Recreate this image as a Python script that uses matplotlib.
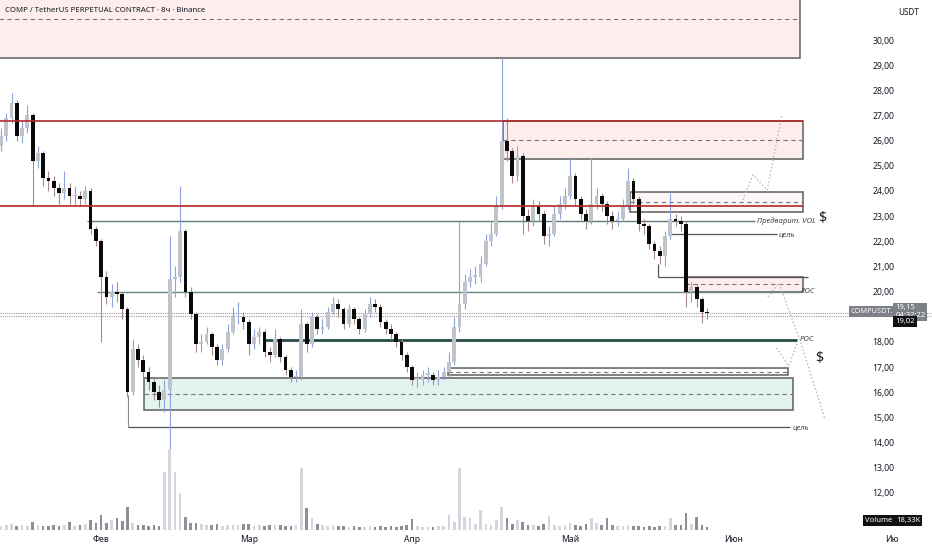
import matplotlib
matplotlib.use("Agg")
import matplotlib.pyplot as plt
from matplotlib.patches import Rectangle
import numpy as np

plt.rcParams['font.family'] = ['Noto Sans', 'DejaVu Sans']

# daily candles, day 0 = Jan 13
first_open = 25.8
closes = [26.2, 26.9, 27.5, 26.2, 26.5, 27.0, 25.2, 25.5, 24.5, 24.4,
          24.1, 23.9, 24.1, 23.8, 23.8, 23.7, 24.0, 22.5, 22.0, 20.6,
          19.8, 20.0, 19.9, 19.3, 16.0, 17.7, 17.3, 16.8, 16.4, 16.0,
          15.7, 16.1, 20.5, 20.6, 22.4, 20.0, 19.1, 17.9, 18.0, 18.3,
          17.8, 17.3, 17.7, 18.4, 19.0, 19.0, 18.8, 17.9, 18.2, 18.4,
          17.6, 17.5, 18.1, 17.4, 16.9, 16.6, 16.6, 18.7, 17.9, 19.0,
          18.5, 18.6, 19.2, 19.5, 19.3, 18.7, 19.3, 18.9, 18.5, 19.1,
          19.5, 19.4, 18.8, 18.5, 18.3, 18.0, 17.5, 17.0, 16.5, 16.5,
          16.7, 16.7, 16.5, 16.6, 16.8, 17.2, 18.6, 19.5, 20.4, 20.6,
          20.6, 21.1, 22.0, 22.3, 23.4, 26.0, 25.6, 24.6, 25.4, 23.0,
          22.8, 23.4, 23.1, 22.2, 22.3, 23.1, 23.5, 23.8, 24.6, 23.7,
          23.1, 22.8, 23.5, 23.8, 23.5, 23.0, 22.8, 22.9, 23.4, 24.4,
          23.7, 22.7, 22.6, 21.9, 21.6, 21.4, 22.2, 22.9, 22.8, 22.7,
          20.0, 20.2, 19.7, 19.2, 19.15]
highs = [26.5, 27.1, 27.9, 27.6, 26.8, 27.4, 27.1, 25.8, 25.6, 24.8,
         24.6, 24.3, 24.8, 24.3, 24.2, 24.0, 24.2, 24.1, 22.6, 22.1,
         20.8, 20.3, 20.4, 20.0, 19.4, 18.1, 17.9, 17.5, 17.0, 16.6,
         16.3, 16.5, 22.2, 21.0, 24.2, 22.5, 20.2, 19.2, 18.3, 18.6,
         18.4, 17.9, 17.9, 18.7, 19.4, 19.6, 19.2, 18.9, 18.5, 18.6,
         18.5, 17.8, 18.5, 18.2, 17.5, 17.0, 16.9, 19.3, 18.8, 19.2,
         19.1, 18.9, 19.4, 19.8, 19.7, 19.4, 19.5, 19.4, 19.0, 19.3,
         19.8, 19.7, 19.5, 18.9, 18.7, 18.4, 18.1, 17.6, 17.1, 16.8,
         16.9, 17.0, 16.8, 16.9, 17.0, 17.6, 19.0, 22.8, 20.7, 20.9,
         21.0, 21.4, 22.3, 22.8, 23.8, 29.3, 26.9, 25.7, 25.8, 25.5,
         23.3, 23.7, 23.6, 23.2, 22.6, 23.4, 23.8, 24.1, 25.3, 24.7,
         23.8, 23.3, 25.3, 24.1, 23.9, 23.6, 23.2, 23.2, 23.7, 24.9,
         24.5, 23.8, 22.9, 22.7, 22.0, 21.8, 22.4, 23.9, 23.1, 23.0,
         22.8, 20.4, 20.3, 19.8, 19.35]
lows = [25.6, 26.0, 26.7, 26.0, 25.9, 26.3, 23.4, 24.9, 24.2, 24.0,
        23.8, 23.5, 23.7, 23.5, 23.4, 23.4, 23.5, 22.3, 21.8, 18.0,
        19.5, 19.4, 19.6, 18.9, 15.8, 15.9, 17.0, 16.5, 16.1, 15.7,
        15.4, 15.2, 13.7, 19.8, 20.4, 19.8, 18.9, 17.6, 17.6, 17.9,
        17.5, 17.1, 17.1, 17.6, 18.3, 18.7, 18.5, 17.5, 17.7, 17.9,
        17.4, 17.2, 17.4, 17.2, 16.7, 16.4, 16.4, 16.5, 17.6, 17.8,
        18.3, 18.3, 18.5, 19.1, 19.0, 18.5, 18.6, 18.7, 18.3, 18.4,
        19.0, 19.2, 18.6, 18.3, 18.1, 17.8, 17.3, 16.8, 16.3, 16.2,
        16.3, 16.4, 16.3, 16.3, 16.5, 16.6, 17.1, 18.4, 19.3, 20.2,
        20.3, 20.4, 21.0, 21.8, 22.2, 23.3, 25.2, 24.3, 24.4, 22.3,
        22.4, 22.6, 22.8, 21.9, 21.8, 22.2, 22.9, 23.3, 23.7, 23.4,
        22.9, 22.5, 22.7, 23.3, 23.2, 22.7, 22.5, 22.6, 22.8, 23.3,
        23.5, 22.4, 22.3, 21.7, 21.3, 21.1, 21.0, 22.1, 22.6, 22.4,
        19.4, 19.6, 19.4, 18.75, 18.9]
volumes = [4, 5, 6, 4, 5, 4, 8, 5, 4, 4, 5, 4, 5, 8, 4, 5, 6, 10, 7, 15,
           7, 10, 12, 9, 23, 7, 5, 5, 4, 5, 4, 58, 81, 58, 37, 13, 7, 7, 6, 5,
           5, 6, 4, 5, 5, 5, 6, 6, 4, 5, 4, 5, 5, 5, 4, 4, 5, 62, 22, 12,
           6, 5, 4, 5, 4, 4, 3, 4, 3, 3, 4, 3, 4, 3, 4, 3, 4, 5, 11, 4,
           3, 3, 3, 4, 4, 15, 8, 62, 13, 12, 6, 20, 6, 5, 10, 23, 12, 6, 10, 8,
           5, 5, 4, 6, 14, 5, 4, 5, 7, 5, 4, 6, 12, 7, 5, 12, 5, 4, 4, 5,
           4, 4, 3, 4, 3, 4, 4, 12, 5, 5, 17, 6, 13, 5, 3]

month_days = [19, 47, 78, 108, 139, 169]
month_labels = ['Фев', 'Мар', 'Апр', 'Май', 'Июн', 'Ию']
# 19,00 sits fully under the last-price labels
price_ticks = [p for p in range(11, 31) if p != 19]

last_price = 19.15
mark_price = 19.02

# drawn levels: (x0, x1, price)
red_levels = [(-2, 152.2, 26.79), (-2, 152.2, 23.41)]
# boxes: (x0, x1, low, high, dashed mid, face)
boxes = [(-2, 151.6, 29.28, 32.5, 30.83, '#fdeded'),
         (95.3, 152.2, 25.27, 26.79, 26.03, '#fdeded'),
         (119.4, 152.2, 23.18, 23.97, 23.57, '#fdf6f6'),
         (129.8, 152.2, 20.0, 20.57, 20.29, '#fdeded'),
         (84.8, 149.3, 16.69, 16.97, 16.82, 'white'),
         (27.1, 150.3, 15.29, 16.55, 15.93, '#e3f4ef')]
vol_level = (16.3, 143.1, 22.82)
target_up = (126.6, 147.2, 22.28)
level_2057 = (124.7, 153.1, 20.57)
poc_upper = (18.2, 151.6, 20.0)
poc_lower = (50.1, 151.0, 18.08)
target_down = (24.1, 149.7, 14.61)
proj_up_x = [140.8, 142.7, 145.4, 148.2]
proj_up_y = [23.64, 24.64, 24.04, 27.06]
proj_dn_x = [145.5, 147.6, 151.6, 156.4]
proj_dn_y = [19.79, 20.34, 18.08, 14.90]
proj_dn2_x = [147.2, 149.5, 151.2]
proj_dn2_y = [17.76, 17.04, 18.04]

fig = plt.figure(figsize=(9.32, 5.5), dpi=100)
ax = fig.add_axes([0, 0, 1, 1])
ax.set_xlim(-0.19, 176.66)
ax.set_ylim(9.73, 31.59)
for s in ax.spines.values():
    s.set_visible(False)

# volume pane
axv = ax.twinx()
axv.set_ylim(-20, 530)
axv.set_axis_off()

days = np.arange(len(closes))
opens = np.array([first_open] + closes[:-1])
closes_a = np.array(closes)
bull = closes_a >= opens
wick_col = np.where(bull, '#8fa2dc', '#a88a8a')
body_col = np.where(bull, '#bfc3cc', '#0a0a0a')
vol_col = np.where(bull, '#d3d6dd', '#8c8f96')

axv.bar(days, volumes, width=0.5, color=vol_col, zorder=1)

ax.vlines(days, lows, highs, colors=wick_col, lw=0.8, zorder=3)
body_h = np.maximum(np.abs(closes_a - opens), 0.05)
ax.bar(days, body_h, bottom=np.minimum(opens, closes_a), width=0.72,
       color=body_col, zorder=4)

# boxes
for x0, x1, lo, hi, mid, face in boxes:
    ax.add_patch(Rectangle((x0, lo), x1 - x0, hi - lo, facecolor=face,
                           edgecolor='#5e5e5e', lw=1.1, zorder=1))
    ax.hlines(mid, x0, x1, colors='#777777', lw=0.8, linestyles=(0, (4, 3)), zorder=2)

for x0, x1, p in red_levels:
    ax.hlines(p, x0, x1, colors='#b22a2a', lw=1.2, zorder=5)

ax.hlines(vol_level[2], vol_level[0], vol_level[1], colors='#5f7d76', lw=1, zorder=2)
ax.hlines(target_up[2], target_up[0], target_up[1], colors='#555555', lw=0.9, zorder=2)
ax.hlines(level_2057[2], level_2057[0], level_2057[1], colors='#555555', lw=0.9, zorder=2)
ax.vlines(level_2057[0], 21.1, level_2057[2], colors='#555555', lw=0.9, zorder=2)
ax.hlines(poc_upper[2], poc_upper[0], poc_upper[1], colors='#6c8680', lw=1, zorder=2)
ax.hlines(poc_lower[2], poc_lower[0], poc_lower[1], colors='#264c46', lw=2, zorder=2)
ax.hlines(target_down[2], target_down[0], target_down[1], colors='#555555', lw=0.9, zorder=2)
ax.vlines(target_down[0], target_down[2], 15.9, colors='#888888', lw=0.8, zorder=2)

for xs, ys in [(proj_up_x, proj_up_y), (proj_dn_x, proj_dn_y), (proj_dn2_x, proj_dn2_y)]:
    ax.plot(xs, ys, color='#b5b5b5', lw=1, ls=':', zorder=2)

lab = dict(fontsize=5.5, style='italic', color='#444444', va='center', zorder=6)
ax.text(vol_level[1] + 0.4, vol_level[2], 'Предварит. VOL', **lab)
ax.text(target_up[1] + 0.4, target_up[2], 'цель', **lab)
ax.text(poc_upper[1] + 0.2, poc_upper[2], 'POC', **lab)
ax.text(poc_lower[1] + 0.6, poc_lower[2], 'POC', **lab)
ax.text(target_down[1] + 0.5, target_down[2], 'цель', **lab)
ax.text(155.8, 22.9, '$', fontsize=10, fontweight='bold', color='#222222', ha='center', va='center')
ax.text(155.2, 17.36, '$', fontsize=10, fontweight='bold', color='#222222', ha='center', va='center')

# last price lines
ax.axhline(last_price, color='#9a9a9a', lw=0.8, ls=(0, (1, 1)), zorder=2)
ax.axhline(mark_price, color='#9a9a9a', lw=0.8, ls=(0, (1, 1)), zorder=2)

# axes labels
ax.set_xticks(month_days)
ax.set_xticklabels(month_labels)
ax.tick_params(axis='x', length=0, pad=-11, labelsize=6.2, labelcolor='#131722')
ax.yaxis.tick_right()
ax.set_yticks(price_ticks)
ax.set_yticklabels([f'{p},00' for p in price_ticks])
ax.tick_params(axis='y', length=0, pad=-43, labelsize=6.2, labelcolor='#131722')

ytr = ax.get_yaxis_transform()
ax.text(0.9125, last_price + 0.05, 'COMPUSDT.P', transform=ytr, fontsize=5.3, color='white',
        ha='left', va='center', zorder=7,
        bbox=dict(boxstyle='square,pad=0.25', fc='#7d8087', ec='none'))
ax.text(0.9605, last_price + 0.05, '19,15\n04:32:22', transform=ytr, fontsize=5.5, color='white',
        ha='left', va='center', linespacing=1.1, zorder=7,
        bbox=dict(boxstyle='square,pad=0.25', fc='#7d8087', ec='none'))
ax.text(0.9605, mark_price - 0.2, '19,02', transform=ytr, fontsize=5.5, color='white',
        ha='left', va='center', zorder=7,
        bbox=dict(boxstyle='square,pad=0.25', fc='#111111', ec='none'))

ax.text(0.9285, 0.053, 'Volume', transform=ax.transAxes, fontsize=5.5, color='white',
        ha='left', va='center', zorder=7,
        bbox=dict(boxstyle='square,pad=0.25', fc='#111111', ec='none'))
ax.text(0.9615, 0.053, '18,33K', transform=ax.transAxes, fontsize=5.5, color='white',
        ha='left', va='center', zorder=7,
        bbox=dict(boxstyle='square,pad=0.25', fc='#111111', ec='none'))
ax.text(0.975, 0.978, 'USDT', transform=ax.transAxes, fontsize=5.8, color='#131722',
        ha='center', va='center')
ax.text(0.005, 0.98, 'COMP / TetherUS PERPETUAL CONTRACT · 8ч · Binance', transform=ax.transAxes,
        fontsize=5.6, color='#131722', ha='left', va='center')

fig.savefig('out.png', dpi=100)
